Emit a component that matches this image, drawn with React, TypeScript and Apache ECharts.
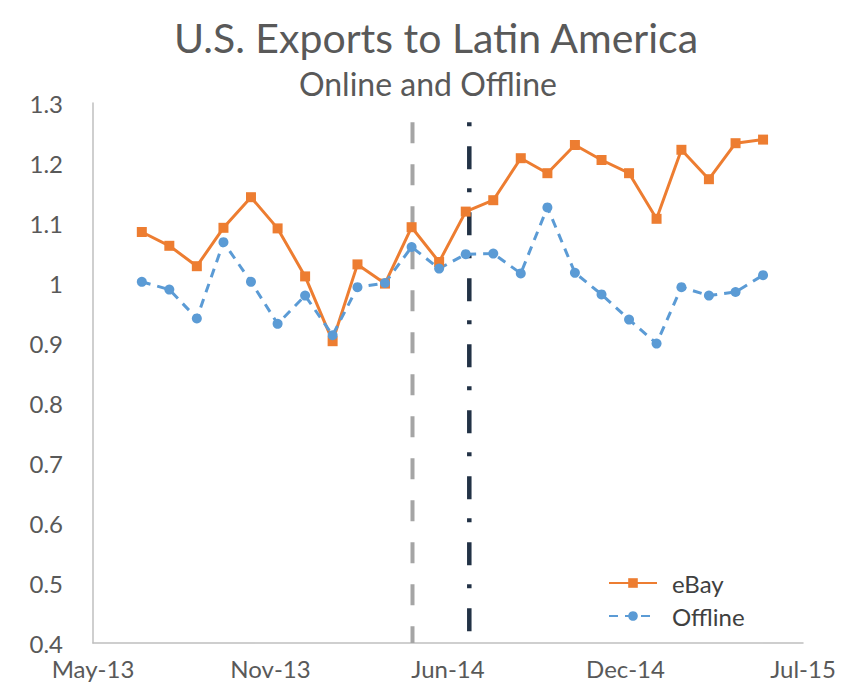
import React, { useEffect, useRef } from "react";
import * as echarts from "echarts";

// Monthly observations (placed at month end), Jun-2013 .. May-2015
const months = [
  "2013-06", "2013-07", "2013-08", "2013-09", "2013-10", "2013-11",
  "2013-12", "2014-01", "2014-02", "2014-03", "2014-04", "2014-05",
  "2014-06", "2014-07", "2014-08", "2014-09", "2014-10", "2014-11",
  "2014-12", "2015-01", "2015-02", "2015-03", "2015-04", "2015-05",
];
const ebay = [
  1.085, 1.062, 1.028, 1.092, 1.143, 1.091, 1.011, 0.903, 1.031, 0.999, 1.093, 1.035,
  1.119, 1.138, 1.208, 1.183, 1.23, 1.205, 1.183, 1.107, 1.222, 1.173, 1.233, 1.239,
];
const offline = [
  1.002, 0.989, 0.941, 1.068, 1.002, 0.932, 0.979, 0.913, 0.993, 1.0, 1.06, 1.024,
  1.048, 1.049, 1.016, 1.126, 1.017, 0.981, 0.939, 0.899, 0.993, 0.979, 0.985, 1.013,
];
// Event markers (dates)
const grayLineDate = "2014-05-01";
const navyLineDate = "2014-07-04";
const markerTop = 1.268;
const markerBottomGray = 0.4;
const markerBottomNavy = 0.392;

const titleText = "U.S. Exports to Latin America";
const subtitleText = "Online and Offline";
const monthNames = ["Jan", "Feb", "Mar", "Apr", "May", "Jun", "Jul", "Aug", "Sep", "Oct", "Nov", "Dec"];

// axis origin date (day 0)
const ORIGIN = Date.UTC(2013, 4, 6);
const DAY = 86400000;

function dayOf(dateStr: string): number {
  const [y, m, d] = dateStr.split("-").map(Number);
  return (Date.UTC(y, m - 1, d) - ORIGIN) / DAY;
}
function monthEndDay(ym: string): number {
  const [y, m] = ym.split("-").map(Number);
  return (Date.UTC(y, m, 0) - ORIGIN) / DAY;
}
function fmtDay(v: number): string {
  const dt = new Date(ORIGIN + v * DAY);
  const yy = String(dt.getUTCFullYear()).slice(2);
  return `${monthNames[dt.getUTCMonth()]}-${yy}`;
}

export default function App() {
  const ref = useRef<HTMLDivElement>(null);
  useEffect(() => {
    if (!ref.current) return;
    const chart = echarts.init(ref.current, null, { renderer: "svg" });
    const font = "Lato";
    const xs = months.map(monthEndDay);
    const gx = dayOf(grayLineDate);
    const nx = dayOf(navyLineDate);
    chart.setOption({
      animation: false,
      backgroundColor: "#ffffff",
      graphic: [
        {
          type: "text",
          x: 436,
          y: 37,
          style: {
            text: titleText,
            fill: "#595959",
            font: `41px ${font}`,
            textAlign: "center",
            textVerticalAlign: "middle",
          },
        },
        {
          type: "text",
          x: 428,
          y: 83,
          style: {
            text: subtitleText,
            fill: "#595959",
            font: `32px ${font}`,
            textAlign: "center",
            textVerticalAlign: "middle",
          },
        },
      ],
      grid: { left: 93, right: 40, top: 103, bottom: 54, containLabel: false },
      legend: {
        data: ["eBay", "Offline"],
        orient: "vertical",
        left: 603,
        top: 566,
        itemWidth: 48,
        itemHeight: 12,
        itemGap: 9,
        textStyle: { fontFamily: font, fontSize: 24, color: "#404040", padding: [0, 0, 0, 10] },
      },
      xAxis: {
        type: "value",
        min: 0,
        max: 800,
        interval: 200,
        axisLine: { show: true, lineStyle: { color: "#BFBFBF", width: 1.5 } },
        axisTick: { show: false },
        splitLine: { show: false },
        axisLabel: {
          formatter: (v: number) => fmtDay(v),
          fontFamily: font,
          fontSize: 24,
          color: "#595959",
          margin: 13,
          showMinLabel: true,
          showMaxLabel: true,
        },
      },
      yAxis: {
        type: "value",
        min: 0.4,
        max: 1.3,
        interval: 0.1,
        axisLine: { show: true, lineStyle: { color: "#BFBFBF", width: 1.5 } },
        axisTick: { show: false },
        splitLine: { show: false },
        axisLabel: {
          fontFamily: font,
          fontSize: 24,
          color: "#595959",
          margin: 30,
        },
      },
      series: [
        {
          name: "gray-marker",
          type: "line",
          data: [[gx, markerTop], [gx, markerBottomGray]],
          symbol: "none",
          silent: true,
          clip: false,
          z: 1,
          lineStyle: { color: "#A5A5A5", width: 4, type: [21, 21] },
        },
        {
          name: "navy-marker",
          type: "line",
          data: [[nx, markerTop], [nx, markerBottomNavy]],
          symbol: "none",
          silent: true,
          clip: false,
          z: 1,
          lineStyle: { color: "#223246", width: 4.5, type: [4, 20, 23, 19] },
        },
        {
          name: "eBay",
          type: "line",
          data: xs.map((x, i) => [x, ebay[i]]),
          symbol: "rect",
          symbolSize: 10,
          color: "#ED7D31",
          itemStyle: { color: "#ED7D31" },
          lineStyle: { color: "#ED7D31", width: 3 },
          z: 3,
        },
        {
          name: "Offline",
          type: "line",
          data: xs.map((x, i) => [x, offline[i]]),
          symbol: "circle",
          symbolSize: 10,
          color: "#5B9BD5",
          itemStyle: { color: "#5B9BD5" },
          lineStyle: { color: "#5B9BD5", width: 3, type: [9, 7] },
          z: 3,
        },
      ],
    });
    return () => chart.dispose();
  }, []);
  return (
    <div
      ref={ref}
      style={{ position: "absolute", left: 0, top: 0, width: 843, height: 697 }}
    />
  );
}
